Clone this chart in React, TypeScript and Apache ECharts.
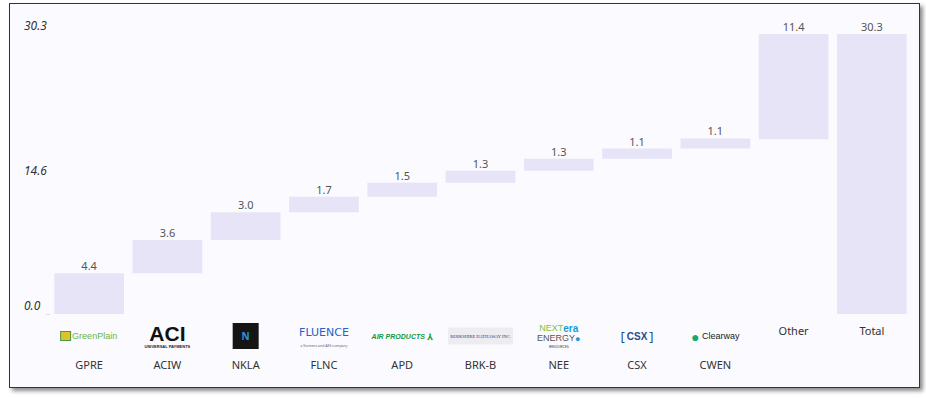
import React, { useEffect, useRef } from "react";
import * as echarts from "echarts";

const categories = ["GPRE", "ACIW", "NKLA", "FLNC", "APD", "BRK-B", "NEE", "CSX", "CWEN", "Other", "Total"];
const values = [4.4, 3.6, 3.0, 1.7, 1.5, 1.3, 1.3, 1.1, 1.1, 11.4, 30.3];
const valueLabels = ["4.4", "3.6", "3.0", "1.7", "1.5", "1.3", "1.3", "1.1", "1.1", "11.4", "30.3"];
const yTickValues = [0, 14.6, 30.3];
const yTickLabels = ["0.0", "14.6", "30.3"];

const FONT = "'Noto Sans', 'Open Sans', sans-serif";

const logos: Record<string, string> = {
  GPRE: "{gpIcon|}{gpText|GreenPlain}",
  ACIW: "{aci|ACI}\n{aciSub|UNIVERSAL PAYMENTS}",
  NKLA: "{nkla|N}",
  FLNC: "{flnc|FLUENCE}\n{flncSub|a Siemens and AES company}",
  APD: "{apd|AIR PRODUCTS}{apdIcon| ⅄}",
  "BRK-B": "{brk|BERKSHIRE HATHAWAY INC.}",
  NEE: "{neeNext|NEXT}{neeEra|era}\n{neeEnergy|ENERGY}{neeDot|●}\n{neeSub|RESOURCES}",
  CSX: "{csxB|[}{csx|CSX}{csxB|]}",
  CWEN: "{cwIcon|●}{cwText| Clearway}",
};

function buildBases(): number[] {
  const bases: number[] = [];
  let cum = 0;
  const total = values[values.length - 1];
  for (let i = 0; i < values.length - 1; i++) {
    bases.push(Math.min(cum, total - values[i]));
    cum += values[i];
  }
  bases.push(0);
  return bases;
}

export default function App() {
  const ref = useRef<HTMLDivElement>(null);
  useEffect(() => {
    if (!ref.current) return;
    const chart = echarts.init(ref.current, undefined, { renderer: "svg" });
    const bases = buildBases();
    chart.setOption({
      animation: false,
      backgroundColor: "#fafaff",
      grid: { left: 40, right: 8, top: 30, bottom: 73, containLabel: false },
      xAxis: {
        type: "category",
        data: categories,
        axisLine: { show: false },
        axisTick: { show: false },
        axisLabel: {
          interval: 0,
          margin: 9,
          verticalAlign: "top",
          fontFamily: FONT,
          formatter: (v: string) => {
            if (logos[v]) return logos[v] + "\n{tk|" + v + "}";
            return "{plain|" + v + "}";
          },
          rich: {
            tk: { fontSize: 11, color: "#333", lineHeight: 30, fontFamily: FONT },
            plain: { fontSize: 11, color: "#333", lineHeight: 14, fontFamily: FONT },
            gpIcon: { width: 9, height: 8, backgroundColor: "#e2c027", borderColor: "#3f9a4a", borderWidth: 1, lineHeight: 26 },
            gpText: { fontSize: 9, color: "#6cb33f", lineHeight: 26, padding: [0, 0, 0, 2], fontFamily: "'Liberation Sans', sans-serif" },
            aci: { fontSize: 21, fontWeight: 900, color: "#111", lineHeight: 21, fontFamily: "'Liberation Sans', sans-serif" },
            aciSub: { fontSize: 4, fontWeight: "bold", color: "#222", lineHeight: 5, fontFamily: "'Liberation Sans', sans-serif" },
            nkla: { width: 26, height: 26, lineHeight: 26, backgroundColor: "#151515", color: "#2f93df", fontSize: 10, fontWeight: "bold", align: "center" },
            flnc: { fontSize: 11, color: "#2563c9", lineHeight: 18, fontFamily: "'DejaVu Sans', sans-serif" },
            flncSub: { fontSize: 3.5, color: "#666", lineHeight: 8 },
            apd: { fontSize: 7, fontWeight: "bold", fontStyle: "italic", color: "#0f9a3e", lineHeight: 26, fontFamily: "'Liberation Sans', sans-serif" },
            apdIcon: { fontSize: 9, fontWeight: "bold", color: "#0f9a3e", lineHeight: 26 },
            brk: { fontSize: 4.5, color: "#2b3a7a", backgroundColor: "#ececf1", padding: [6, 2, 6, 2], lineHeight: 26, fontFamily: "'Liberation Serif', serif" },
            neeNext: { fontSize: 9, color: "#7ac143", lineHeight: 10, fontFamily: "'Liberation Sans', sans-serif" },
            neeEra: { fontSize: 10, fontWeight: "bold", color: "#1a9ad6", lineHeight: 10, fontFamily: "'Liberation Sans', sans-serif" },
            neeEnergy: { fontSize: 9, color: "#555", lineHeight: 10, fontFamily: "'Liberation Sans', sans-serif" },
            neeDot: { fontSize: 9, color: "#1a9ad6", lineHeight: 10 },
            neeSub: { fontSize: 3.5, color: "#333", lineHeight: 6 },
            csx: { fontSize: 10, fontWeight: "bold", color: "#1f4e8c", lineHeight: 26, fontFamily: "'Liberation Sans', sans-serif" },
            csxB: { fontSize: 13, color: "#1f4e8c", lineHeight: 26, padding: [0, 2, 0, 2] },
            cwIcon: { fontSize: 14, color: "#1aa86c", lineHeight: 26 },
            cwText: { fontSize: 9, color: "#222", lineHeight: 26, fontFamily: "'Liberation Sans', sans-serif" },
          },
        },
      },
      yAxis: {
        type: "value",
        min: 0,
        max: 30.3,
        splitLine: { show: false },
        axisLine: { show: false },
        axisTick: { show: true, customValues: [0], length: 4, lineStyle: { color: "#ddd" } },
        axisLabel: {
          customValues: yTickValues,
          formatter: (v: number) => {
            const i = yTickValues.indexOf(v);
            return i >= 0 ? yTickLabels[i] : "";
          },
          align: "left",
          margin: 26,
          verticalAlign: "bottom",
          padding: [0, 0, 3, 0],
          fontStyle: "italic",
          fontSize: 12,
          color: "#333",
          fontFamily: FONT,
        },
      },
      series: [
        {
          type: "bar",
          stack: "w",
          data: bases,
          itemStyle: { color: "transparent" },
          emphasis: { disabled: true },
          silent: true,
        },
        {
          type: "bar",
          stack: "w",
          data: values,
          barWidth: "89%",
          itemStyle: { color: "#e6e4f6" },
          label: {
            show: true,
            position: "top",
            distance: 2,
            fontSize: 11,
            color: "#555",
            fontFamily: FONT,
            formatter: (p: any) => valueLabels[p.dataIndex],
          },
        },
      ],
    });
    return () => chart.dispose();
  }, []);

  return (
    <div
      style={{
        position: "absolute",
        left: 9,
        top: 3,
        width: 909,
        height: 383,
        border: "1px solid #333",
        background: "#fafaff",
        boxShadow: "3px 3px 4px rgba(0,0,0,0.45)",
      }}
    >
      <div ref={ref} style={{ width: 909, height: 383 }} />
    </div>
  );
}
